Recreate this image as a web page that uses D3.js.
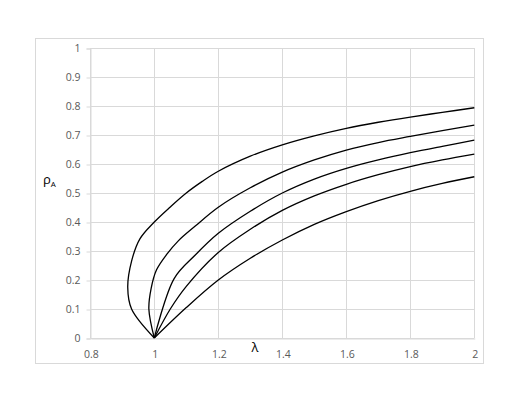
<!DOCTYPE html>
<html><head><meta charset="utf-8">
<script src="https://cdn.jsdelivr.net/npm/d3@7"></script>
<style>body{margin:0;background:#fff;} text{font-family:"Open Sans","Liberation Sans",sans-serif;}</style>
</head><body><svg id="c" width="521" height="403"></svg>
<script>
const xTicks = [0.8, 1, 1.2, 1.4, 1.6, 1.8, 2];
const yTicks = [0, 0.1, 0.2, 0.3, 0.4, 0.5, 0.6, 0.7, 0.8, 0.9, 1];
const xLabel = "λ";
const yLabel = "ρ";
const yLabelSub = "A";

const curve1 = [[1,0],[0.929,0.10],[0.917,0.175],[0.929,0.265],[0.955,0.342],[1.0,0.40],[1.05,0.452],[1.1,0.50],[1.15,0.54],[1.2,0.575],[1.3,0.627],[1.4,0.666],[1.5,0.697],[1.6,0.723],[1.7,0.744],[1.8,0.762],[1.9,0.778],[2.0,0.794]];
const curve2 = [[1,0],[0.983,0.10],[0.99,0.17],[1.007,0.235],[1.04,0.29],[1.075,0.335],[1.128,0.386],[1.2,0.451],[1.3,0.518],[1.4,0.572],[1.5,0.614],[1.6,0.648],[1.7,0.674],[1.8,0.695],[1.9,0.715],[2.0,0.734]];
const curve3 = [[1,0],[1.062,0.205],[1.128,0.286],[1.2,0.361],[1.3,0.437],[1.4,0.500],[1.5,0.548],[1.6,0.585],[1.7,0.614],[1.8,0.639],[1.9,0.661],[2.0,0.682]];
const curve4 = [[1,0],[1.05,0.10],[1.1,0.178],[1.2,0.295],[1.3,0.375],[1.4,0.440],[1.5,0.490],[1.6,0.530],[1.7,0.563],[1.8,0.591],[1.9,0.614],[2.0,0.634]];
const curve5 = [[1,0],[1.1,0.105],[1.2,0.200],[1.3,0.275],[1.4,0.338],[1.5,0.392],[1.6,0.436],[1.7,0.474],[1.8,0.506],[1.9,0.533],[2.0,0.556]];
const series = [curve1, curve2, curve3, curve4, curve5];

const svg = d3.select("#c");
const L = 90.3, R = 474.3, T = 48, B = 338;
const x = d3.scaleLinear().domain([0.8, 2]).range([L, R]);
const y = d3.scaleLinear().domain([0, 1]).range([B, T]);

// outer border
svg.append("rect").attr("x", 35.5).attr("y", 38.5).attr("width", 448).attr("height", 325)
  .attr("fill", "#fff").attr("stroke", "#d9d9d9").attr("stroke-width", 1);

// gridlines
const g = svg.append("g");
g.selectAll("line.h").data(yTicks).join("line")
  .attr("x1", L).attr("x2", R)
  .attr("y1", d => Math.round(y(d)) + 0.5).attr("y2", d => Math.round(y(d)) + 0.5)
  .attr("stroke", "#d9d9d9");
g.selectAll("line.v").data(xTicks).join("line")
  .attr("y1", T).attr("y2", B)
  .attr("x1", d => Math.round(x(d)) + 0.5).attr("x2", d => Math.round(x(d)) + 0.5)
  .attr("stroke", "#d9d9d9");

// y axis with ticks
const yAxis = d3.axisLeft(y).tickValues(yTicks).tickSize(4).tickPadding(6)
  .tickFormat(d => d3.format("")(+d.toFixed(1)));
const ya = svg.append("g").attr("transform", `translate(${Math.round(L)+0.5},0.5)`).call(yAxis);
ya.select(".domain").attr("stroke", "#d9d9d9");
ya.selectAll(".tick line").attr("stroke", "#d9d9d9");
ya.selectAll(".tick text").attr("fill", "#595959").style("font-size", "10.5px")
  .style("font-family", "'Open Sans','Liberation Sans',sans-serif");

// x axis
const xAxis = d3.axisBottom(x).tickValues(xTicks).tickSize(0).tickPadding(12)
  .tickFormat(d => d3.format("")(+d.toFixed(1)));
const xa = svg.append("g").attr("transform", `translate(0.5,${Math.round(B)+0.5})`).call(xAxis);
xa.select(".domain").attr("stroke", "#d9d9d9");
xa.selectAll(".tick text").attr("fill", "#595959").style("font-size", "10.5px")
  .style("font-family", "'Open Sans','Liberation Sans',sans-serif");

// curves
const line = d3.line().x(d => x(d[0])).y(d => y(d[1])).curve(d3.curveCatmullRom.alpha(0.5));
svg.append("g").selectAll("path").data(series).join("path")
  .attr("d", line).attr("fill", "none").attr("stroke", "#000").attr("stroke-width", 1.3)
  .attr("stroke-linejoin", "round");

// axis titles
const yt = svg.append("text").attr("x", 43).attr("y", 184).attr("fill", "#000").style("font-size", "13px");
yt.append("tspan").text(yLabel);
yt.append("tspan").attr("dy", 3).style("font-size", "8px").text(yLabelSub);
svg.append("text").attr("x", 255).attr("y", 352).attr("text-anchor", "middle")
  .attr("fill", "#000").style("font-size", "13px").text(xLabel);
</script></body></html>
